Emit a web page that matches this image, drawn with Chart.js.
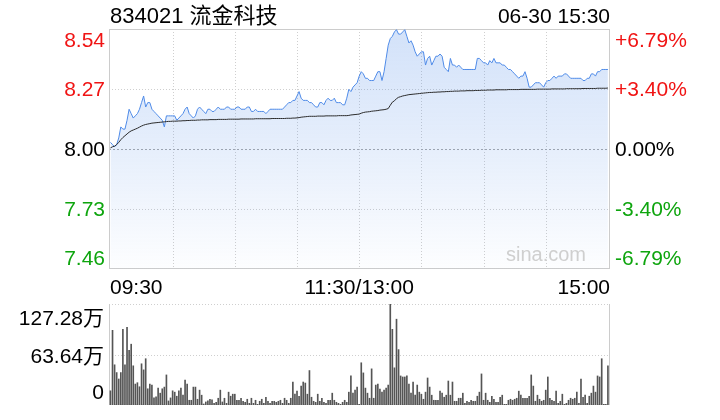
<!DOCTYPE html>
<html><head><meta charset="utf-8">
<script src="https://cdn.jsdelivr.net/npm/chart.js@4.4.1/dist/chart.umd.min.js"></script>
<style>
html,body{margin:0;padding:0;background:#fff;}
#wrap{position:relative;width:720px;height:420px;overflow:hidden;}
canvas{position:absolute;left:0;top:0;}
</style></head><body>
<div id="wrap"><canvas id="main" width="720" height="420"></canvas><canvas id="vol" width="720" height="420"></canvas></div>
<script>
const stockTitle = "834021 流金科技";
const stampText = "06-30 15:30";
const prevClose = 8.00;
const priceLabels = ["8.54", "8.27", "8.00", "7.73", "7.46"];
const pctLabels = ["+6.79%", "+3.40%", "0.00%", "-3.40%", "-6.79%"];
const pctLevels = [6.79, 3.40, 0, -3.40, -6.79];
const timeLabels = ["09:30", "11:30/13:00", "15:00"];
const timeLabelMinutes = [0, 120, 240];
const gridMinutes = [30, 60, 90, 120, 150, 180, 210];
const volLabels = ["127.28万", "63.64万", "0"];
const volLevels = [127.28, 63.64, 0];

const prices = [
8.03,8.02,8.01,8.02,8.05,8.10,8.09,8.09,8.13,8.18,
8.16,8.14,8.15,8.16,8.18,8.21,8.24,8.19,8.21,8.21,
8.18,8.17,8.16,8.15,8.14,8.13,8.10,8.15,8.15,8.15,
8.15,8.15,8.13,8.14,8.15,8.16,8.18,8.19,8.16,8.15,
8.14,8.15,8.18,8.19,8.18,8.17,8.16,8.18,8.18,8.17,
8.17,8.18,8.19,8.18,8.18,8.18,8.19,8.19,8.18,8.18,
8.18,8.19,8.19,8.18,8.18,8.18,8.19,8.19,8.17,8.17,
8.18,8.17,8.17,8.17,8.17,8.16,8.17,8.18,8.18,8.18,
8.18,8.18,8.18,8.18,8.19,8.20,8.21,8.21,8.22,8.22,
8.24,8.26,8.23,8.22,8.22,8.22,8.21,8.21,8.20,8.19,
8.19,8.21,8.21,8.20,8.22,8.23,8.22,8.22,8.23,8.21,
8.21,8.21,8.20,8.20,8.23,8.27,8.26,8.28,8.29,8.30,
8.33,8.35,8.34,8.32,8.32,8.31,8.31,8.31,8.33,8.35,
8.35,8.31,8.35,8.41,8.47,8.50,8.51,8.53,8.54,8.52,
8.52,8.53,8.54,8.51,8.48,8.49,8.47,8.44,8.42,8.43,
8.44,8.44,8.38,8.41,8.42,8.38,8.40,8.42,8.42,8.43,
8.42,8.37,8.36,8.35,8.41,8.38,8.38,8.37,8.38,8.37,
8.36,8.36,8.36,8.36,8.36,8.36,8.36,8.41,8.41,8.40,
8.39,8.39,8.38,8.40,8.39,8.41,8.39,8.39,8.39,8.38,
8.38,8.37,8.36,8.36,8.35,8.34,8.33,8.32,8.33,8.33,
8.35,8.32,8.28,8.28,8.29,8.30,8.30,8.30,8.29,8.28,
8.30,8.31,8.31,8.32,8.33,8.32,8.33,8.33,8.33,8.34,
8.34,8.33,8.32,8.32,8.32,8.32,8.32,8.32,8.31,8.31,
8.32,8.32,8.34,8.34,8.33,8.35,8.35,8.36,8.36,8.36,
8.36
];

const avgPrices = [
8.005,8.010,8.013,8.020,8.030,8.042,8.052,8.060,8.068,8.076,
8.082,8.086,8.090,8.094,8.099,8.104,8.108,8.111,8.113,8.115,
8.117,8.118,8.119,8.120,8.121,8.122,8.123,8.124,8.125,8.125,
8.126,8.126,8.126,8.127,8.127,8.128,8.128,8.129,8.129,8.130,
8.130,8.130,8.131,8.131,8.132,8.132,8.132,8.132,8.133,8.133,
8.133,8.133,8.134,8.134,8.134,8.134,8.134,8.135,8.135,8.135,
8.135,8.135,8.135,8.136,8.136,8.136,8.136,8.136,8.136,8.136,
8.137,8.137,8.137,8.137,8.137,8.137,8.137,8.137,8.138,8.138,
8.138,8.138,8.138,8.138,8.138,8.139,8.139,8.139,8.140,8.140,
8.141,8.142,8.144,8.145,8.146,8.147,8.148,8.148,8.148,8.148,
8.149,8.149,8.149,8.149,8.150,8.150,8.150,8.150,8.150,8.150,
8.151,8.151,8.151,8.151,8.151,8.152,8.154,8.155,8.156,8.157,
8.158,8.162,8.165,8.167,8.168,8.169,8.171,8.172,8.173,8.174,
8.176,8.177,8.178,8.180,8.183,8.198,8.212,8.218,8.228,8.234,
8.237,8.240,8.242,8.244,8.246,8.247,8.248,8.249,8.250,8.251,
8.252,8.253,8.254,8.255,8.256,8.256,8.257,8.257,8.258,8.258,
8.259,8.259,8.260,8.260,8.261,8.261,8.262,8.262,8.262,8.263,
8.263,8.263,8.264,8.264,8.264,8.264,8.265,8.265,8.265,8.266,
8.266,8.266,8.267,8.267,8.267,8.267,8.268,8.268,8.268,8.268,
8.268,8.268,8.269,8.269,8.269,8.269,8.269,8.269,8.270,8.270,
8.270,8.270,8.270,8.270,8.270,8.270,8.271,8.271,8.271,8.271,
8.271,8.271,8.271,8.272,8.272,8.272,8.272,8.272,8.272,8.272,
8.273,8.273,8.273,8.273,8.273,8.273,8.273,8.273,8.274,8.274,
8.274,8.274,8.274,8.274,8.274,8.275,8.275,8.275,8.275,8.275,
8.276
];

// volume in 万 (10k shares) per minute
const volumes = [
17.88,94.08,50.66,40.87,32.78,40.87,95.36,50.66,97.91,68.96,
76.63,49.38,26.39,28.10,22.99,51.94,44.27,58.32,20.43,26.39,
25.12,8.94,10.22,21.29,14.90,20.43,22.56,37.89,5.11,8.94,
17.88,16.18,11.07,17.88,21.29,12.35,31.50,26.39,5.96,5.96,
22.56,22.56,7.24,18.73,12.35,1.28,3.83,5.11,7.24,6.39,
2.13,3.41,8.51,18.73,3.83,8.51,2.13,16.18,11.07,13.62,
13.62,5.96,5.96,8.51,4.68,3.41,7.24,2.13,8.51,2.13,
5.96,0.85,4.68,7.24,2.13,9.79,4.68,2.13,4.68,4.68,
3.41,4.68,5.96,2.13,8.51,5.96,2.13,8.51,28.95,13.62,
17.45,11.07,23.84,28.95,27.67,13.62,43.42,9.79,4.68,3.41,
13.62,4.68,8.51,3.41,2.13,5.96,5.96,14.90,5.96,3.41,
2.13,0.85,3.41,5.96,3.41,16.18,36.61,14.90,18.73,22.56,
0.85,53.21,40.44,21.29,14.90,8.51,45.55,8.51,25.12,26.39,
20.01,16.18,18.73,21.29,25.12,127.28,95.36,46.83,108.13,69.81,
36.61,35.33,35.33,36.61,26.39,14.90,28.95,12.35,25.12,16.18,
13.62,7.24,16.18,34.06,22.56,12.35,5.96,5.96,5.96,17.45,
14.90,9.79,12.35,30.22,12.35,28.95,4.68,4.68,8.51,8.51,
14.90,2.13,4.68,3.41,5.96,4.68,4.68,11.07,16.18,39.16,
5.96,14.90,5.96,3.41,11.07,7.24,3.41,3.41,9.79,12.35,
0.85,0.85,5.96,7.24,5.96,7.24,8.51,17.45,12.35,8.51,
8.51,8.51,11.07,37.89,23.84,4.68,12.35,7.24,4.68,5.96,
18.73,35.33,8.51,5.96,4.68,17.45,2.13,4.68,13.62,0.85,
2.13,5.96,8.51,7.24,8.51,16.18,2.13,32.78,9.79,12.35,
2.13,11.07,14.90,23.84,16.18,36.61,35.33,58.32,0.85,0.85,
49.38
];

const FONT = '"Liberation Sans", Arial, "Noto Sans CJK SC", sans-serif';
const RED = '#f01414', GREEN = '#0ea50e', BLACK = '#000000';
const pctColor = p => p > 0 ? RED : (p < 0 ? GREEN : BLACK);
const levelPrice = p => prevClose * (1 + p / 100);
const yMaxPrice = levelPrice(pctLevels[0]);
const yMinPrice = levelPrice(pctLevels[pctLevels.length - 1]);
const X_MIN = -0.7, X_MAX = 241;

function hline(ctx, x1, x2, y) { ctx.beginPath(); ctx.moveTo(x1, y); ctx.lineTo(x2, y); ctx.stroke(); }
function vline(ctx, x, y1, y2) { ctx.beginPath(); ctx.moveTo(x, y1); ctx.lineTo(x, y2); ctx.stroke(); }

const mainGrid = {
  id: 'mainGrid',
  beforeDatasetsDraw(chart) {
    const ctx = chart.ctx, a = chart.chartArea, xs = chart.scales.x, ys = chart.scales.y;
    ctx.save();
    ctx.lineWidth = 1;
    ctx.strokeStyle = '#cfcfcf';
    ctx.setLineDash([1, 2]);
    gridMinutes.forEach(m => { const x = Math.round(xs.getPixelForValue(m)) + 0.5; vline(ctx, x, a.top, a.bottom); });
    pctLevels.forEach((p, k) => {
      if (k === 0 || k === pctLevels.length - 1) return;
      const y = Math.round(ys.getPixelForValue(levelPrice(p))) + 0.5;
      if (p === 0) { ctx.strokeStyle = '#a8a8a8'; ctx.setLineDash([2, 2]); }
      else { ctx.strokeStyle = '#cfcfcf'; ctx.setLineDash([1, 2]); }
      hline(ctx, a.left, a.right, y);
    });
    ctx.setLineDash([]);
    ctx.strokeStyle = '#cccccc';
    ctx.strokeRect(a.left + 0.5, a.top + 0.5, a.right - a.left - 1, a.bottom - a.top - 1);
    ctx.restore();
  },
  afterDraw(chart) {
    const ctx = chart.ctx, a = chart.chartArea, xs = chart.scales.x, ys = chart.scales.y;
    ctx.save();
    ctx.textBaseline = 'alphabetic';
    ctx.font = '22px ' + FONT;
    ctx.fillStyle = BLACK;
    ctx.textAlign = 'left';
    ctx.fillText(stockTitle, a.left + 1, 22.7);
    ctx.font = '21px ' + FONT;
    ctx.textAlign = 'right';
    ctx.fillText(stampText, a.right, 22.7);
    pctLevels.forEach((p, k) => {
      let y = ys.getPixelForValue(levelPrice(p));
      if (k === 0) y += 17.5; else if (k === pctLevels.length - 1) y -= 4.5; else y += 7;
      ctx.fillStyle = pctColor(p);
      ctx.textAlign = 'right';
      ctx.fillText(priceLabels[k], a.left - 4, y);
      ctx.textAlign = 'left';
      ctx.fillText(pctLabels[k], a.right + 5, y);
    });
    ctx.fillStyle = BLACK;
    timeLabels.forEach((t, k) => {
      const m = timeLabelMinutes[k];
      let x = xs.getPixelForValue(m);
      if (k === 0) { ctx.textAlign = 'left'; x = a.left + 1; }
      else if (k === timeLabels.length - 1) { ctx.textAlign = 'right'; x = a.right; }
      else ctx.textAlign = 'center';
      ctx.fillText(t, x, a.bottom + 24.5);
    });
    ctx.font = '20px ' + FONT;
    ctx.fillStyle = '#cfcfcf';
    ctx.textAlign = 'left';
    ctx.fillText('sina.com', 506, a.bottom - 8.5);
    ctx.restore();
  }
};

const volGrid = {
  id: 'volGrid',
  beforeDatasetsDraw(chart) {
    const ctx = chart.ctx, a = chart.chartArea, ys = chart.scales.y;
    ctx.save();
    ctx.lineWidth = 1;
    ctx.strokeStyle = '#cfcfcf';
    ctx.setLineDash([1, 2]);
    volLevels.forEach(v => { const y = Math.min(Math.round(ys.getPixelForValue(v)), a.bottom - 1) + 0.5; hline(ctx, a.left, a.right, y); });
    ctx.setLineDash([]);
    ctx.strokeStyle = '#cccccc';
    vline(ctx, a.left + 0.5, a.top, a.bottom);
    vline(ctx, a.right - 0.5, a.top, a.bottom);
    ctx.restore();
  },
  afterDraw(chart) {
    const ctx = chart.ctx, a = chart.chartArea, ys = chart.scales.y;
    ctx.save();
    ctx.font = '21px ' + FONT;
    ctx.fillStyle = BLACK;
    ctx.textAlign = 'right';
    ctx.textBaseline = 'alphabetic';
    volLevels.forEach((v, k) => {
      let y = ys.getPixelForValue(v);
      if (k === 0) y += 20.5; else if (k === volLevels.length - 1) y -= 6.5; else y += 8.5;
      ctx.fillText(volLabels[k], a.left - 5, y);
    });
    ctx.restore();
  }
};

const priceData = prices.map((v, i) => ({ x: i, y: v }));
const avgData = avgPrices.map((v, i) => ({ x: i, y: v }));
const volData = volumes.map((v, i) => ({ x: i, y: v }));

new Chart(document.getElementById('main'), {
  type: 'line',
  data: {
    datasets: [
      { label: '均价', data: avgData, borderColor: '#2b2b2b', borderWidth: 1, pointRadius: 0, fill: false, order: 1, tension: 0 },
      { label: '价格', data: priceData, borderColor: '#4f8be8', borderWidth: 1, pointRadius: 0, order: 2, tension: 0,
        fill: 'start',
        backgroundColor: (c) => {
          const ch = c.chart, area = ch.chartArea;
          if (!area) return 'rgba(79,139,232,0.15)';
          const g = ch.ctx.createLinearGradient(0, area.top, 0, area.bottom);
          g.addColorStop(0, 'rgba(79,139,232,0.25)');
          g.addColorStop(0.5, 'rgba(79,139,232,0.14)');
          g.addColorStop(1, 'rgba(79,139,232,0.01)');
          return g;
        } }
    ]
  },
  options: {
    responsive: false, animation: false, devicePixelRatio: 1,
    layout: { padding: { left: 109, right: 110, top: 29, bottom: 151 } },
    scales: {
      x: { type: 'linear', min: X_MIN, max: X_MAX, display: false },
      y: { type: 'linear', min: yMinPrice, max: yMaxPrice, display: false }
    },
    plugins: { legend: { display: false }, tooltip: { enabled: false } },
    events: []
  },
  plugins: [mainGrid]
});

new Chart(document.getElementById('vol'), {
  type: 'bar',
  data: {
    datasets: [
      { label: '成交量', data: volData, backgroundColor: '#555555', barThickness: 1, borderWidth: 0 }
    ]
  },
  options: {
    responsive: false, animation: false, devicePixelRatio: 1,
    layout: { padding: { left: 109, right: 110, top: 304, bottom: 15 } },
    scales: {
      x: { type: 'linear', min: X_MIN, max: X_MAX, display: false, offset: false },
      y: { type: 'linear', min: 0, max: volLevels[0], display: false }
    },
    plugins: { legend: { display: false }, tooltip: { enabled: false } },
    events: []
  },
  plugins: [volGrid]
});
</script>
</body></html>
